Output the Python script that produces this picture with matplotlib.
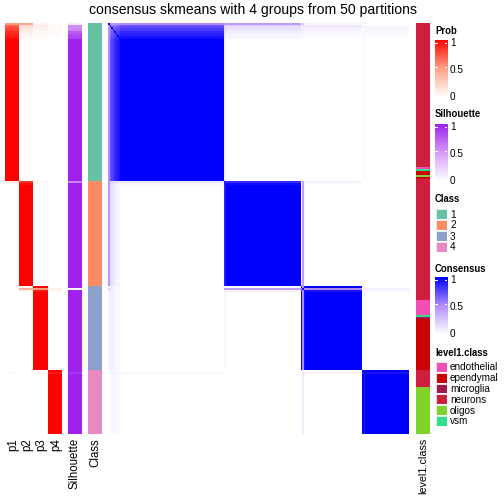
import numpy as np
import matplotlib.pyplot as plt
from matplotlib.colors import LinearSegmentedColormap, ListedColormap

plt.rcParams['font.family'] = ['Liberation Sans', 'DejaVu Sans']

title = "consensus skmeans with 4 groups from 50 partitions"
group_sizes = [77, 51, 41, 31]
class_colors = ["#66C2A5", "#FC8D62", "#8DA0CB", "#E78AC3"]

# rows whose membership is not clean: row -> (p1, p2, p3, p4)
prob_overrides = {
    0: [0.50, 0.45, 0.05, 0.00],
    1: [0.70, 0.18, 0.09, 0.03],
    2: [0.76, 0.14, 0.07, 0.03],
    3: [0.80, 0.11, 0.06, 0.03],
    4: [0.85, 0.08, 0.04, 0.03],
    5: [0.88, 0.06, 0.03, 0.03],
    6: [0.91, 0.05, 0.02, 0.02],
    7: [0.94, 0.03, 0.02, 0.01],
    77: [0.10, 0.85, 0.05, 0.00],
    78: [0.03, 0.95, 0.02, 0.00],
    129: [0.00, 0.42, 0.50, 0.08],
    130: [0.00, 0.05, 0.93, 0.02],
    170: [0.04, 0.00, 0.04, 0.92],
}

# silhouette for rows that are not 1
sil_overrides = {0: 0.10, 1: 0.55, 2: 0.55, 3: 0.60, 4: 0.75, 5: 0.80,
                 6: 0.85, 7: 0.85, 77: 0.60, 129: 0.02, 170: 0.90}

level1_names = ["endothelial", "ependymal", "microglia", "neurons", "oligos", "vsm"]
level1_colors = ["#F050B4", "#CC0000", "#A0184C", "#CE1F3E", "#7FD32A", "#2EE08A"]
level1_runs = [("neurons", 70), ("endothelial", 1), ("vsm", 1), ("ependymal", 2),
               ("oligos", 1), ("ependymal", 1), ("neurons", 1),
               ("neurons", 51),
               ("neurons", 7), ("endothelial", 7), ("vsm", 1), ("microglia", 1),
               ("ependymal", 25),
               ("neurons", 8), ("oligos", 23)]

# build per-sample arrays
classes = np.repeat(np.arange(4), group_sizes)
n = len(classes)
prob = np.zeros((n, 4))
prob[np.arange(n), classes] = 1.0
for i, p in prob_overrides.items():
    prob[i] = p
sil = np.ones(n)
for i, s in sil_overrides.items():
    sil[i] = s
level1 = np.concatenate([[level1_names.index(k)] * c for k, c in level1_runs])

# consensus from membership
consensus = prob @ prob.T
np.fill_diagonal(consensus, 1.0)

prob_cmap = LinearSegmentedColormap.from_list("prob", ["white", "#FF9E82", "red"])
sil_cmap = LinearSegmentedColormap.from_list("sil", ["white", "#D69CF8", "#A020F0"])
cons_cmap = LinearSegmentedColormap.from_list("cons", ["white", "#B28CFF", "blue"])

W = H = 504
fig = plt.figure(figsize=(7, 7), dpi=72)


def px_axes(x0, y0, x1, y1):
    ax = fig.add_axes([x0 / W, 1 - y1 / H, (x1 - x0) / W, (y1 - y0) / H])
    ax.set_axis_off()
    return ax


top, bottom = 23, 434
kw = dict(aspect='auto', interpolation='nearest')

ax = px_axes(5, top, 62, bottom)
ax.imshow(prob, cmap=prob_cmap, vmin=0, vmax=1, **kw)

ax = px_axes(68, top, 82, bottom)
ax.imshow(sil[:, None], cmap=sil_cmap, vmin=0, vmax=1, **kw)

ax = px_axes(88, top, 102, bottom)
ax.imshow(classes[:, None], cmap=ListedColormap(class_colors), vmin=-0.5, vmax=3.5, **kw)

ax = px_axes(108, top, 409, bottom)
ax.imshow(consensus, cmap=cons_cmap, vmin=0, vmax=1, **kw)

ax = px_axes(416, top, 430, bottom)
ax.imshow(level1[:, None], cmap=ListedColormap(level1_colors), vmin=-0.5, vmax=5.5, **kw)

fig.text(253 / W, 1 - 10 / H, title, ha='center', va='center', fontsize=14)

# column labels
for label, xc, fs in [("p1", 13, 11.5), ("p2", 27.5, 11.5), ("p3", 41.5, 11.5),
                      ("p4", 56, 11.5), ("Silhouette", 75, 11.5), ("Class", 95, 11.5),
                      ("level1.class", 423, 10.8)]:
    fig.text(xc / W, 1 - 438 / H, label, rotation=90, ha='center', va='top', fontsize=fs)


def colorbar_legend(name, cmap, y_title, y0, y1):
    fig.text(435 / W, 1 - y_title / H, name, ha='left', va='center',
             fontsize=9.5, fontweight='bold')
    cax = px_axes(435, y0, 447, y1)
    cax.imshow(np.linspace(1, 0, 200)[:, None], cmap=cmap, vmin=0, vmax=1,
               aspect='auto', extent=[0, 1, -0.05, 1.0])
    cax.set_ylim(-0.05, 1.0)
    for v in [0.5, 0.95]:
        cax.plot([0, 0.2], [v, v], color='white', lw=1)
        cax.plot([0.8, 1], [v, v], color='white', lw=1)
    span = y1 - y0
    for v, lab in [(1, "1"), (0.5, "0.5"), (0, "0")]:
        y = y0 + 3 + (1 - v) * (span - 3)
        fig.text(450 / W, 1 - y / H, lab, ha='left', va='center', fontsize=10)


colorbar_legend("Prob", prob_cmap, 31, 40, 97)
colorbar_legend("Silhouette", sil_cmap, 114, 124, 181)
colorbar_legend("Consensus", cons_cmap, 269, 277, 334)


def box_legend(name, labels, colors, y_title, y_first, pitch):
    fig.text(435 / W, 1 - y_title / H, name, ha='left', va='center',
             fontsize=9.5, fontweight='bold')
    for k, (lab, col) in enumerate(zip(labels, colors)):
        y0 = y_first + k * pitch
        bax = fig.add_axes([436 / W, 1 - (y0 + pitch - 1) / H, 11 / W, (pitch - 1) / H])
        bax.set_axis_off()
        bax.add_patch(plt.Rectangle((0, 0), 1, 1, facecolor=col, edgecolor='#F0F0F0',
                                    lw=0.8, transform=bax.transAxes))
        fig.text(450 / W, 1 - (y0 + pitch / 2) / H, lab, ha='left', va='center', fontsize=10)


box_legend("Class", ["1", "2", "3", "4"], class_colors, 199, 209, 11)
box_legend("level1.class", level1_names, level1_colors, 353, 362, 10.8)

fig.savefig("out.png", dpi=72)
